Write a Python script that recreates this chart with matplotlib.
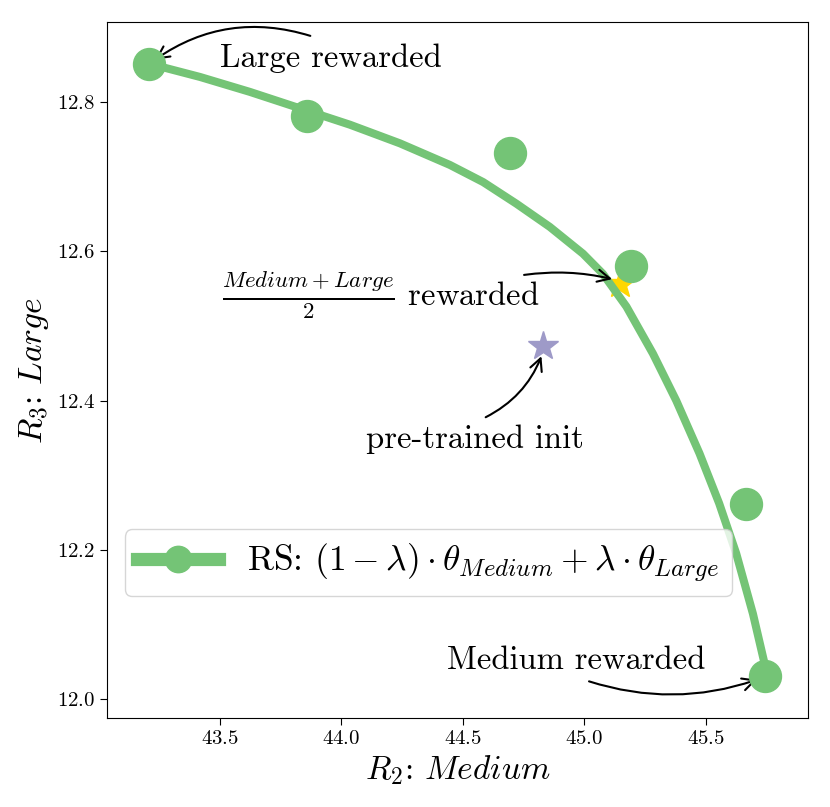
import matplotlib
matplotlib.use("Agg")
import matplotlib.pyplot as plt
from matplotlib.lines import Line2D

plt.rcParams['font.family'] = 'serif'
plt.rcParams['font.serif'] = ['cmr10']
plt.rcParams['mathtext.fontset'] = 'cm'
plt.rcParams['axes.formatter.use_mathtext'] = True
plt.rcParams['axes.unicode_minus'] = False

green = '#74c476'

# interpolation curve
curve_x = [43.209, 43.253, 43.418, 43.623, 43.829, 44.035, 44.241, 44.447,
           44.584, 44.721, 44.858, 44.995, 45.077, 45.174, 45.283, 45.379,
           45.475, 45.556, 45.626, 45.695, 45.743, 45.746]
curve_y = [12.851, 12.848, 12.834, 12.814, 12.792, 12.770, 12.745, 12.716,
           12.693, 12.664, 12.633, 12.597, 12.570, 12.526, 12.463, 12.400,
           12.329, 12.262, 12.195, 12.114, 12.047, 12.030]

# RS points
rs_x = [43.209, 43.859, 44.693, 45.194, 45.666, 45.744]
rs_y = [12.851, 12.781, 12.732, 12.581, 12.261, 12.030]

init_x, init_y = 44.83, 12.473
mid_x, mid_y = 45.146, 12.557

fig = plt.figure(figsize=(8.3, 8.07), dpi=100)
ax = fig.add_axes([0.129, 0.110, 0.844, 0.863])

ax.plot(mid_x, mid_y, marker='*', color='gold', ms=22, ls='none', zorder=2)
ax.plot(curve_x, curve_y, color=green, lw=5.8, zorder=3)
ax.plot(rs_x, rs_y, marker='o', color=green, ms=23, ls='none', zorder=4)
ax.plot(init_x, init_y, marker='*', color='#9e9ac8', ms=22, ls='none', zorder=4)

arrow = dict(arrowstyle='->', color='black', lw=1.5, mutation_scale=22)

ax.text(43.957, 12.847, 'Large rewarded', fontsize=23.5, ha='center', va='baseline')
ax.annotate('', xy=(43.223, 12.855), xytext=(43.883, 12.888),
            arrowprops=dict(connectionstyle='arc3,rad=0.25', **arrow))

ax.text(44.163, 12.526, r'$\frac{Medium+Large}{2}$ rewarded', fontsize=23.5,
        ha='center', va='baseline')
ax.annotate('', xy=(45.126, 12.562), xytext=(44.741, 12.568),
            arrowprops=dict(connectionstyle='arc3,rad=-0.1', **arrow))

ax.text(44.551, 12.337, 'pre-trained init', fontsize=23.5, ha='center', va='baseline')
ax.annotate('', xy=(44.828, 12.463), xytext=(44.584, 12.376),
            arrowprops=dict(connectionstyle='arc3,rad=0.2', **arrow))

ax.text(44.966, 12.040, 'Medium rewarded', fontsize=23.5, ha='center', va='baseline')
ax.annotate('', xy=(45.722, 12.027), xytext=(45.009, 12.0246),
            arrowprops=dict(connectionstyle='arc3,rad=0.17', **arrow))

handle = Line2D([0], [0], color=green, lw=9.5, marker='o', ms=19)
ax.legend([handle], [r'RS: $(1-\lambda)\cdot\theta_{Medium}+\lambda\cdot\theta_{Large}$'],
          loc='center left', bbox_to_anchor=(0.0, 0.223), fontsize=25.5,
          handlelength=2.3, borderpad=0.35)

ax.set_xlim(43.035, 45.92)
ax.set_ylim(11.974, 12.908)
ax.set_xticks([43.5, 44.0, 44.5, 45.0, 45.5])
ax.set_yticks([12.0, 12.2, 12.4, 12.6, 12.8])
ax.tick_params(labelsize=15, length=5)
ax.set_xlabel(r'$R_2$: $Medium$', fontsize=24)
ax.set_ylabel(r'$R_3$: $Large$', fontsize=24)

fig.savefig('out.png', dpi=100)
